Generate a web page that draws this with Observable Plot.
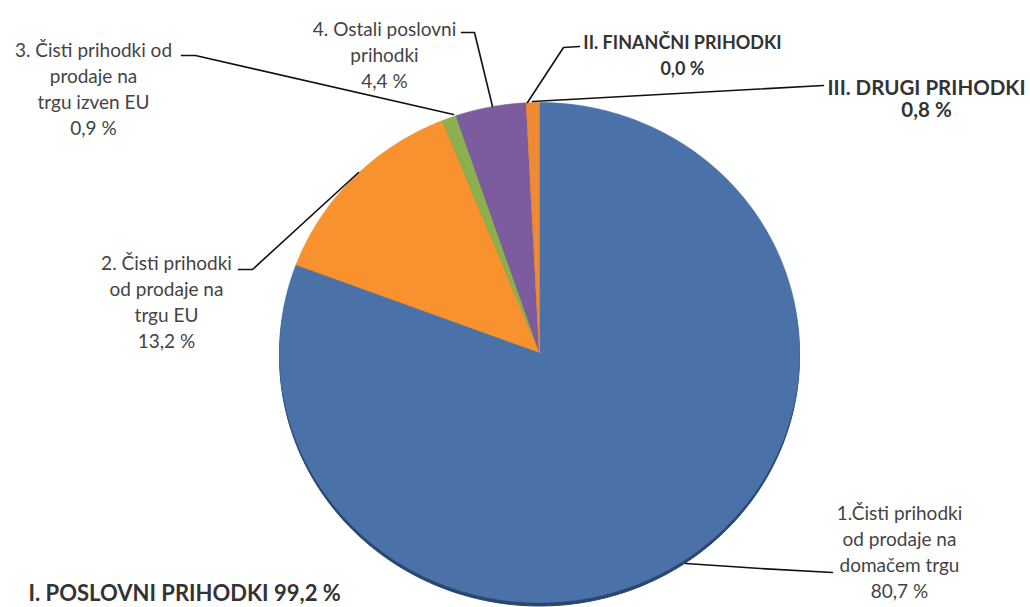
<!DOCTYPE html>
<html>
<head>
<meta charset="utf-8">
<script src="https://cdn.jsdelivr.net/npm/d3@7"></script>
<script src="https://cdn.jsdelivr.net/npm/@observablehq/plot@0.6"></script>
<style>
  html, body { margin: 0; padding: 0; background: #ffffff; }
  #chart svg { display: block; }
</style>
</head>
<body>
<div id="chart"></div>
<script>
// ---------- DATA ----------
const sliceNames = [
  "1. domači trg",
  "2. trg EU",
  "3. trg izven EU",
  "4. ostali poslovni prihodki",
  "II. finančni prihodki",
  "III. drugi prihodki"
];
const shares = [80.7, 13.2, 0.9, 4.4, 0.0, 0.8];
const labelTexts = [
  "1.Čisti prihodki\nod prodaje na\ndomačem trgu",
  "2. Čisti prihodki\nod prodaje na\ntrgu EU",
  "3. Čisti prihodki od\nprodaje na\ntrgu izven EU",
  "4. Ostali poslovni\nprihodki",
  "II. FINANČNI PRIHODKI",
  "III. DRUGI PRIHODKI"
];
const totalLabel = "I. POSLOVNI PRIHODKI";
const totalShare = 99.2;

// ---------- STYLE / LAYOUT ----------
const sliceColors = ["#4a72a8", "#f7922f", "#8cb04f", "#7c5c9f", "#f28a2c", "#ee8a34"];
const pie = {cx: 539, cy: 352, rx: 260, ry: 250};
const fmt = v => v.toFixed(1).replace(".", ",") + " %";

const labelLayout = [
  {x: 899, y: 501, size: 19, lh: 1.368, bold: false},
  {x: 166, y: 251, size: 19, lh: 1.368, bold: false},
  {x: 93,  y: 38,  size: 19, lh: 1.368, bold: false},
  {x: 384, y: 17,  size: 19, lh: 1.368, bold: false},
  {x: 682, y: 30,  size: 18, lh: 1.444, bold: true},
  {x: 926, y: 78.6, size: 20.5, lh: 1.073, bold: true}
];
const leaderLayout = [
  [[685, 563], [760, 568], [832, 572]],
  [[238, 269], [252, 269], [358, 172]],
  [[181, 55], [195, 55], [453, 114]],
  [[461, 32], [474, 32], [492, 106]],
  [[579, 46], [563, 47], [527, 102]],
  [[532, 101], [823, 85]]
];
const totalLayout = {x: 28, y: 585, size: 22};

// ---------- GEOMETRY (derived from shares) ----------
const total = d3.sum(shares);
const slicePts = [];
let cum = 0;
shares.forEach((v, i) => {
  const a0 = cum / total * 2 * Math.PI;
  cum += v;
  const a1 = cum / total * 2 * Math.PI;
  const n = Math.max(2, Math.ceil((a1 - a0) / 0.01));
  slicePts.push({key: sliceNames[i], x: pie.cx, y: pie.cy});
  for (let k = 0; k <= n; k++) {
    const t = a0 + (a1 - a0) * k / n;
    slicePts.push({key: sliceNames[i], x: pie.cx + pie.rx * Math.sin(t), y: pie.cy - pie.ry * Math.cos(t)});
  }
  slicePts.push({key: sliceNames[i], x: pie.cx, y: pie.cy});
});
const rimPts = d3.range(0, 361, 1).map(d => {
  const t = d * Math.PI / 180;
  return {x: pie.cx + pie.rx * Math.sin(t), y: pie.cy + 3.5 - pie.ry * Math.cos(t)};
});

const labels = labelTexts.map((t, i) => ({
  text: t + "\n" + fmt(shares[i]), ...labelLayout[i]
}));
const leaders = leaderLayout.flatMap((pts, i) => pts.map(([x, y]) => ({id: i, x, y})));

const normal = labels.filter(d => !d.bold);
const font = "Lato, 'Open Sans', sans-serif";

const chart = Plot.plot({
  width: 1030,
  height: 607,
  margin: 0,
  x: {domain: [0, 1030], range: [0, 1030], axis: null},
  y: {domain: [0, 607], range: [0, 607], axis: null},
  color: {domain: sliceNames, range: sliceColors},
  style: {fontFamily: font, background: "#ffffff"},
  marks: [
    Plot.line(rimPts, {x: "x", y: "y", fill: "#2a4670", stroke: "#2a4670", strokeWidth: 1}),
    Plot.line(slicePts, {x: "x", y: "y", z: "key", fill: "key", stroke: "key", strokeWidth: 0.6}),
    Plot.line(leaders, {x: "x", y: "y", z: "id", stroke: "#111", strokeWidth: 1.6}),
    Plot.text(normal, {x: "x", y: "y", text: "text", fontSize: 19, lineHeight: 1.368, lineAnchor: "top", textAnchor: "middle", fill: "#444"}),
    Plot.text([labels[4]], {x: "x", y: "y", text: "text", fontSize: labels[4].size, lineHeight: labels[4].lh, lineAnchor: "top", textAnchor: "middle", fontWeight: "bold", fill: "#333"}),
    Plot.text([labels[5]], {x: "x", y: "y", text: "text", fontSize: labels[5].size, lineHeight: labels[5].lh, lineAnchor: "top", textAnchor: "middle", fontWeight: "bold", fill: "#333"}),
    Plot.text([{text: totalLabel + " " + fmt(totalShare), ...totalLayout}], {x: "x", y: "y", text: "text", fontSize: totalLayout.size, lineAnchor: "top", textAnchor: "start", fontWeight: "bold", fill: "#333"})
  ]
});
document.getElementById("chart").appendChild(chart);
</script>
</body>
</html>
